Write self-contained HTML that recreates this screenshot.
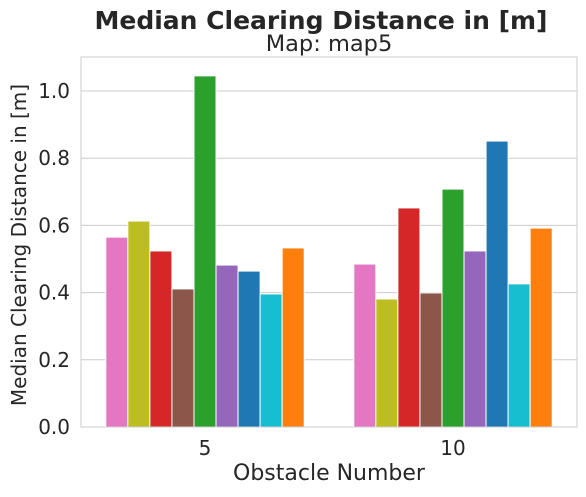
<!DOCTYPE html>
<html><head><meta charset="utf-8"><style>
body{margin:0;background:#fff;font-family:"Liberation Sans","DejaVu Sans",sans-serif;}
</style></head><body>
<svg id="chart" width="586" height="492" xmlns="http://www.w3.org/2000/svg" font-family="DejaVu Sans, Liberation Sans, sans-serif"></svg>
<script>
const categories = ["5", "10"];
const seriesColors = ["#e377c2","#bcbd22","#d62728","#8c564b","#2ca02c","#9467bd","#1f77b4","#17becf","#ff7f0e"];
const values5 = [0.565, 0.613, 0.524, 0.411, 1.045, 0.482, 0.464, 0.396, 0.533];
const values10 = [0.485, 0.381, 0.652, 0.399, 0.708, 0.524, 0.851, 0.426, 0.592];
const yTicks = [0.0, 0.2, 0.4, 0.6, 0.8, 1.0];
const yTickLabels = ["0.0","0.2","0.4","0.6","0.8","1.0"];

const svg = document.getElementById('chart');
const NS = "http://www.w3.org/2000/svg";
const L = 81, R = 577, T = 57, B = 427;
const yMax = 370/336;
function y(v){ return B - v/yMax*(B-T); }
const bandW = (R-L)/categories.length;
function xc(i){ return L + bandW*(i+0.5); }
function mk(tag, attrs, name, text){
  const e = document.createElementNS(NS, tag);
  for (const k in attrs) e.setAttribute(k, attrs[k]);
  
  
  if (text !== undefined) e.textContent = text;
  svg.appendChild(e); return e;
}
yTicks.forEach((t,i)=>{
  mk('line',{x1:L,x2:R,y1:y(t),y2:y(t),stroke:'#cccccc','stroke-width':1},'y-gridline');
  mk('text',{x:L-11,y:y(t)+7,'text-anchor':'end','font-size':20,fill:'#262626'},'y-tick-label',yTickLabels[i]);
});
const all = [values5, values10];
const n = seriesColors.length;
const bw = bandW*0.8/n;
all.forEach((vals,ci)=>{
  const start = xc(ci) - bandW*0.4;
  vals.forEach((v,si)=>{
    mk('rect',{x:start+si*bw,y:y(v),width:bw,height:B-y(v),fill:seriesColors[si],stroke:'#fff','stroke-width':1},'bar-'+categories[ci]+'-'+si);
  });
  mk('text',{x:xc(ci),y:B+28,'text-anchor':'middle','font-size':20,fill:'#262626'},'x-tick-label',categories[ci]);
});
mk('rect',{x:L,y:T,width:R-L,height:B-T,fill:'none',stroke:'#cccccc','stroke-width':1},'plot-frame');
mk('text',{x:321,y:29,'text-anchor':'middle','font-size':25,'font-weight':'bold',fill:'#262626'},'chart-title','Median Clearing Distance in [m]');
mk('text',{x:329,y:51,'text-anchor':'middle','font-size':22.5,fill:'#262626'},'chart-subtitle','Map: map5');
mk('text',{x:329,y:480,'text-anchor':'middle','font-size':22,fill:'#262626'},'x-axis-title','Obstacle Number');
mk('text',{x:26,y:245,'text-anchor':'middle','font-size':20,fill:'#262626',transform:'rotate(-90 26 245)'},'y-axis-title','Median Clearing Distance in [m]');
</script>
</body></html>
